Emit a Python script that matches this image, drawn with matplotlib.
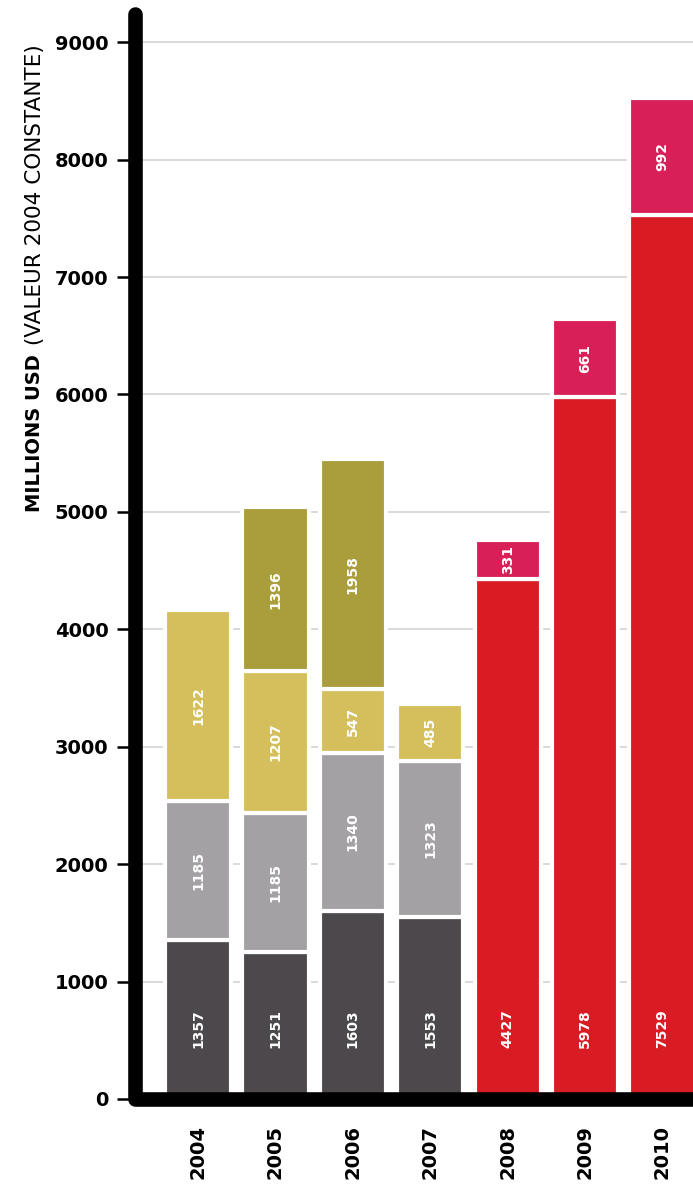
import matplotlib.pyplot as plt

# data
years = ["2004", "2005", "2006", "2007", "2008", "2009", "2010"]
dark = [1357, 1251, 1603, 1553, 0, 0, 0]
gray = [1185, 1185, 1340, 1323, 0, 0, 0]
yellow = [1622, 1207, 547, 485, 0, 0, 0]
olive = [0, 1396, 1958, 0, 0, 0, 0]
red = [0, 0, 0, 0, 4427, 5978, 7529]
pink = [0, 0, 0, 0, 331, 661, 992]

series = [
    (dark, "#4c484b"),
    (gray, "#a4a1a5"),
    (yellow, "#d4bf5c"),
    (olive, "#a99e3b"),
    (red, "#d91b23"),
    (pink, "#d81f57"),
]
yticks = [0, 1000, 2000, 3000, 4000, 5000, 6000, 7000, 8000, 9000]

plt.rcParams['font.family'] = ['DejaVu Sans']

fig = plt.figure(figsize=(6.93, 11.84), dpi=100)
W, H = 693, 1184
ax = fig.add_axes([135 / W, (H - 1099) / H, (W - 135) / W, (1099 - 14) / H])
ax.set_xlim(-0.814, 6.394)
ax.set_ylim(0, 9240)
for s in ax.spines.values():
    s.set_visible(False)

for y in yticks[1:]:
    ax.axhline(y, color="#d3d3d3", lw=1.2, zorder=0)

x = list(range(len(years)))
bottom = [0] * len(years)
for vals, col in series:
    for i, v in enumerate(vals):
        if v <= 0:
            continue
        ax.bar(i, v, bottom=bottom[i], width=0.855, color=col,
               edgecolor="white", linewidth=3, zorder=2)
        if bottom[i] == 0:
            ty = 600
        else:
            ty = bottom[i] + v / 2
        ax.text(i, ty, str(v), rotation=90, ha="center", va="center",
                color="white", fontsize=10, fontweight="bold", zorder=3)
    bottom = [b + v for b, v in zip(bottom, vals)]

# thick axis lines
ax.plot([-0.814, -0.814, 6.5], [9240, 0, 0], color="black", lw=10.5,
        solid_capstyle="round", solid_joinstyle="round", clip_on=False, zorder=5)

ax.set_yticks(yticks)
ax.set_yticklabels([str(t) for t in yticks], fontsize=14, fontweight="bold")
ax.tick_params(axis="y", length=13, width=1.8, pad=6, color="black")
ax.set_xticks(x)
ax.set_xticklabels(years, rotation=90, fontsize=14, fontweight="bold")
ax.tick_params(axis="x", length=0, pad=19)

# y label: bold part then normal part
t1 = fig.text(35 / W, (H - 512) / H, "MILLIONS USD", rotation=90,
              rotation_mode="anchor", ha="left", va="center",
              fontsize=14, fontweight="bold")
fig.canvas.draw()
bb = t1.get_window_extent()
t2 = fig.text(35 / W, (bb.y1 + 2) / H, " (VALEUR 2004 CONSTANTE)", rotation=90,
              rotation_mode="anchor", ha="left", va="center", fontsize=15.5)

fig.savefig("out.png", dpi=100)
